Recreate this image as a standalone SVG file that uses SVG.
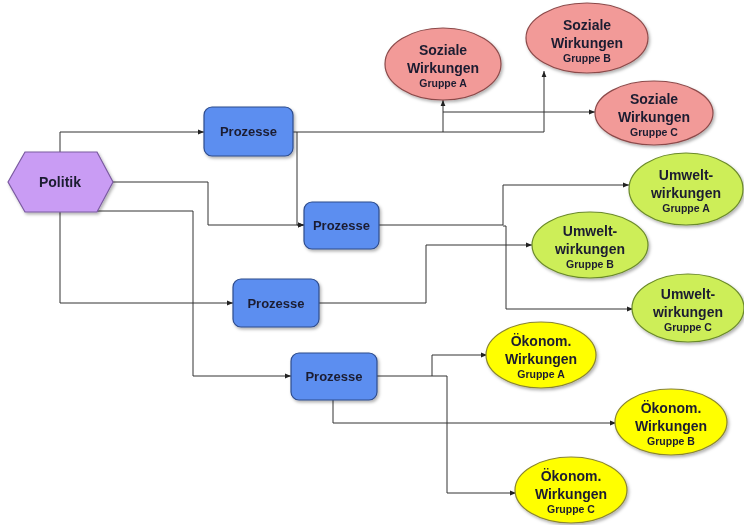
<svg xmlns="http://www.w3.org/2000/svg" width="744" height="525" viewBox="0 0 744 525">
<defs>
<marker id="arr" viewBox="0 0 10 10" refX="10" refY="5" markerWidth="6" markerHeight="6" orient="auto" markerUnits="userSpaceOnUse">
<path d="M0,1 L10,5 L0,9 z" fill="#222"/>
</marker>
<filter id="sh" x="-20%" y="-20%" width="140%" height="150%">
<feDropShadow dx="1.5" dy="2" stdDeviation="1.5" flood-color="#000" flood-opacity="0.3"/>
</filter>
</defs>
<style>
.t{font-family:"Liberation Sans",Arial,sans-serif;font-weight:bold;fill:#1c1c30;text-anchor:middle}
.m{font-size:14px}
.s{font-size:10.5px}
.p{font-size:13px}
.box{fill:#5b8ef0;stroke:#2e4c8c;stroke-width:1.2}
.soz{fill:#f29a98;stroke:#8c4a4a;stroke-width:1.2}
.umw{fill:#cdee58;stroke:#6b8a2a;stroke-width:1.2}
.oek{fill:#ffff00;stroke:#8a8530;stroke-width:1.2}
.c{fill:none;stroke:#333;stroke-width:1}
</style>
<rect width="744" height="525" fill="#fff"/>
<g id="connectors">
<path class="c" d="M60,152 V132 H204" marker-end="url(#arr)"/>
<path class="c" d="M113,182 H208 V225 H304" marker-end="url(#arr)"/>
<path class="c" d="M60,212 V303 H233" marker-end="url(#arr)"/>
<path class="c" d="M97,211 H193 V376 H291" marker-end="url(#arr)"/>
<path class="c" d="M293,132 H443 V100" marker-end="url(#arr)"/>
<path class="c" d="M443,132 H544 V71" marker-end="url(#arr)"/>
<path class="c" d="M443,112 H595" marker-end="url(#arr)"/>
<path class="c" d="M297,132 V225 H304" marker-end="url(#arr)"/>
<path class="c" d="M378,225 H503 V185 H629" marker-end="url(#arr)"/>
<path class="c" d="M503,226 H506 V309 H633" marker-end="url(#arr)"/>
<path class="c" d="M319,303 H426 V245 H532" marker-end="url(#arr)"/>
<path class="c" d="M377,376 H432 V355 H487" marker-end="url(#arr)"/>
<path class="c" d="M432,376 H447 V493 H516" marker-end="url(#arr)"/>
<path class="c" d="M333,400 V423 H616" marker-end="url(#arr)"/>
</g>
<g id="politik" filter="url(#sh)">
<polygon points="8,182 25,152 97,152 113,182 97,212 25,212" fill="#c99cf4" stroke="#7a5aa0" stroke-width="1.2"/>
<text class="t m" x="60" y="187">Politik</text>
</g>
<g id="prozesse1" filter="url(#sh)">
<rect class="box" x="204" y="107" width="89" height="49" rx="8"/>
<text class="t p" x="248.5" y="136">Prozesse</text>
</g>
<g id="prozesse2" filter="url(#sh)">
<rect class="box" x="304" y="202" width="75" height="47" rx="8"/>
<text class="t p" x="341.5" y="230">Prozesse</text>
</g>
<g id="prozesse3" filter="url(#sh)">
<rect class="box" x="233" y="279" width="86" height="48" rx="8"/>
<text class="t p" x="276" y="308">Prozesse</text>
</g>
<g id="prozesse4" filter="url(#sh)">
<rect class="box" x="291" y="353" width="86" height="47" rx="8"/>
<text class="t p" x="334" y="381">Prozesse</text>
</g>
<g id="sozA" filter="url(#sh)">
<ellipse class="soz" cx="443" cy="64" rx="58" ry="36"/>
<text class="t m" x="443" y="55">Soziale</text>
<text class="t m" x="443" y="73">Wirkungen</text>
<text class="t s" x="443" y="87">Gruppe A</text>
</g>
<g id="sozB" filter="url(#sh)">
<ellipse class="soz" cx="587" cy="38" rx="61" ry="35"/>
<text class="t m" x="587" y="30">Soziale</text>
<text class="t m" x="587" y="48">Wirkungen</text>
<text class="t s" x="587" y="62">Gruppe B</text>
</g>
<g id="sozC" filter="url(#sh)">
<ellipse class="soz" cx="654" cy="113" rx="59" ry="32"/>
<text class="t m" x="654" y="104">Soziale</text>
<text class="t m" x="654" y="122">Wirkungen</text>
<text class="t s" x="654" y="136">Gruppe C</text>
</g>
<g id="umwA" filter="url(#sh)">
<ellipse class="umw" cx="686" cy="189" rx="57" ry="36"/>
<text class="t m" x="686" y="180">Umwelt-</text>
<text class="t m" x="686" y="198">wirkungen</text>
<text class="t s" x="686" y="212">Gruppe A</text>
</g>
<g id="umwB" filter="url(#sh)">
<ellipse class="umw" cx="590" cy="245" rx="58" ry="33"/>
<text class="t m" x="590" y="236">Umwelt-</text>
<text class="t m" x="590" y="254">wirkungen</text>
<text class="t s" x="590" y="268">Gruppe B</text>
</g>
<g id="umwC" filter="url(#sh)">
<ellipse class="umw" cx="688" cy="308" rx="56" ry="34"/>
<text class="t m" x="688" y="299">Umwelt-</text>
<text class="t m" x="688" y="317">wirkungen</text>
<text class="t s" x="688" y="331">Gruppe C</text>
</g>
<g id="oekA" filter="url(#sh)">
<ellipse class="oek" cx="541" cy="355" rx="55" ry="33"/>
<text class="t m" x="541" y="346">Ökonom.</text>
<text class="t m" x="541" y="364">Wirkungen</text>
<text class="t s" x="541" y="378">Gruppe A</text>
</g>
<g id="oekB" filter="url(#sh)">
<ellipse class="oek" cx="671" cy="422" rx="56" ry="33"/>
<text class="t m" x="671" y="413">Ökonom.</text>
<text class="t m" x="671" y="431">Wirkungen</text>
<text class="t s" x="671" y="445">Gruppe B</text>
</g>
<g id="oekC" filter="url(#sh)">
<ellipse class="oek" cx="571" cy="490" rx="56" ry="33"/>
<text class="t m" x="571" y="481">Ökonom.</text>
<text class="t m" x="571" y="499">Wirkungen</text>
<text class="t s" x="571" y="513">Gruppe C</text>
</g>
</svg>
